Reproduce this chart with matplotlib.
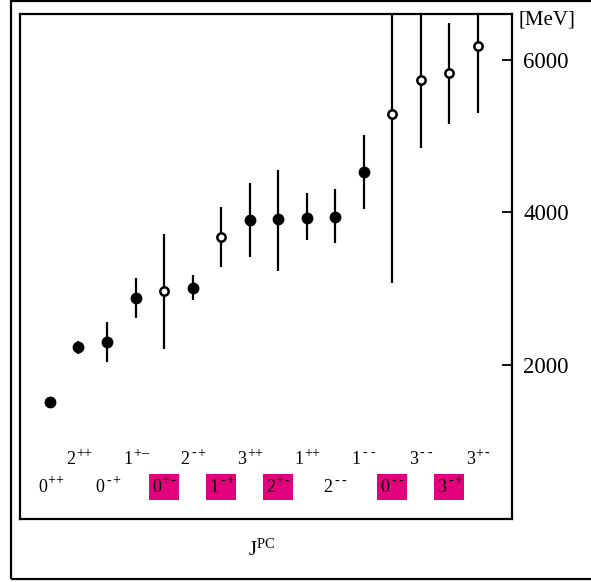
import matplotlib
import matplotlib.pyplot as plt
import matplotlib.transforms as mtransforms
from matplotlib.patches import Rectangle
import numpy as np

## Fonts: Times-like serif everywhere
matplotlib.rcParams.update({'font.family': 'Liberation Serif',
                            'mathtext.fontset': 'custom',
                            'mathtext.rm': 'Liberation Serif'})

## Data (MeV)
jpc      = ['0++', '2++', '0-+', '1+\u2013', '0+-', '2-+', '1-+', '3++',
            '2+-', '1++', '2--', '1--', '0--', '3--', '3-+', '3+-']
mass     = [1515, 2236, 2301, 2878, 2970, 3009, 3678, 3900,
            3913, 3927, 3940, 4530, 5290, 5735, 5827, 6181]
err_lo   = [0, 92, 262, 262, 760, 157, 394, 485,
            681, 289, 341, 485, 2215, 891, 668, 878]
err_hi   = [0, 79, 263, 262, 747, 171, 393, 485,
            643, 327, 367, 484, 2215, 891, 655, 878]
open_pt  = [False, False, False, False, True, False, True, False,
            False, False, False, False, True, True, True, True]
exotic   = [False, False, False, False, True, False, True, False,
            True, False, False, False, True, False, True, False]
yticks   = [2000, 4000, 6000]

fig = plt.figure(figsize=(5.91, 5.82), dpi=100)
ax = fig.add_axes([20/591, 1 - 519/582, 492/591, 505/582])

x = np.arange(len(mass))
mass = np.array(mass)
for i in x:
    ax.errorbar(i, mass[i], yerr=[[err_lo[i]], [err_hi[i]]], fmt='none',
                ecolor='black', elinewidth=1.6, capsize=0, zorder=2)
    if open_pt[i]:
        ax.plot(i, mass[i], 'o', ms=6, mfc='white', mec='black', mew=1.8, zorder=3)
    else:
        ax.plot(i, mass[i], 'o', ms=7.5, mfc='black', mec='black', zorder=3)

ax.set_xlim(-1.05, 16.2)
ax.set_ylim(-20, 6600)

# Right hand axis only, ticks pointing inwards
ax.set_xticks([])
ax.yaxis.tick_right()
ax.set_yticks(yticks)
ax.tick_params(axis='y', direction='in', length=7.5, width=1.3, pad=8, labelsize=16.5)
for s in ax.spines.values():
    s.set_linewidth(1.6)

# J^PC labels, alternating rows, exotic ones on magenta
# digit and each superscript sign drawn separately so the signs stay short and apart
trans = mtransforms.blended_transform_factory(ax.transData, ax.transAxes)
fs_base, fs_sup = 13, 10
adv = 5.4
for i, lab in enumerate(jpc):
    yy = 0.063 if i % 2 == 0 else 0.118
    if exotic[i]:
        ax.add_patch(Rectangle((i - 0.52, yy - 0.026), 1.04, 0.052, transform=trans,
                               fc='#E2007C', ec='none', zorder=1))
    w_base = 0.5 * fs_base
    w_sup = adv * len(lab[1:])
    left = -(w_base + w_sup) / 2
    ax.annotate(lab[0], (i, yy), xycoords=trans, xytext=(left, 0), textcoords='offset points',
                ha='left', va='center', fontsize=fs_base, zorder=2)
    for k, ch in enumerate(lab[1:]):
        ax.annotate(ch, (i, yy), xycoords=trans,
                    xytext=(left + w_base + 0.5 + adv * (k + 0.5), 4.5),
                    textcoords='offset points', ha='center', va='center',
                    fontsize=fs_sup, zorder=2)

fig.text(519/591, 1 - 20/582, '[MeV]', ha='left', va='center', fontsize=15)
fig.text(262/591, 1 - 550/582, r'$\mathregular{J^{PC}}$', ha='center', va='center', fontsize=15)

# Outer frame (right edge runs off the picture)
fig.patches.append(Rectangle((11/591, 1 - 579/582), 1.0, 578/582, transform=fig.transFigure,
                             fill=False, ec='black', lw=1.6))

fig.savefig('out.png', dpi=100)
